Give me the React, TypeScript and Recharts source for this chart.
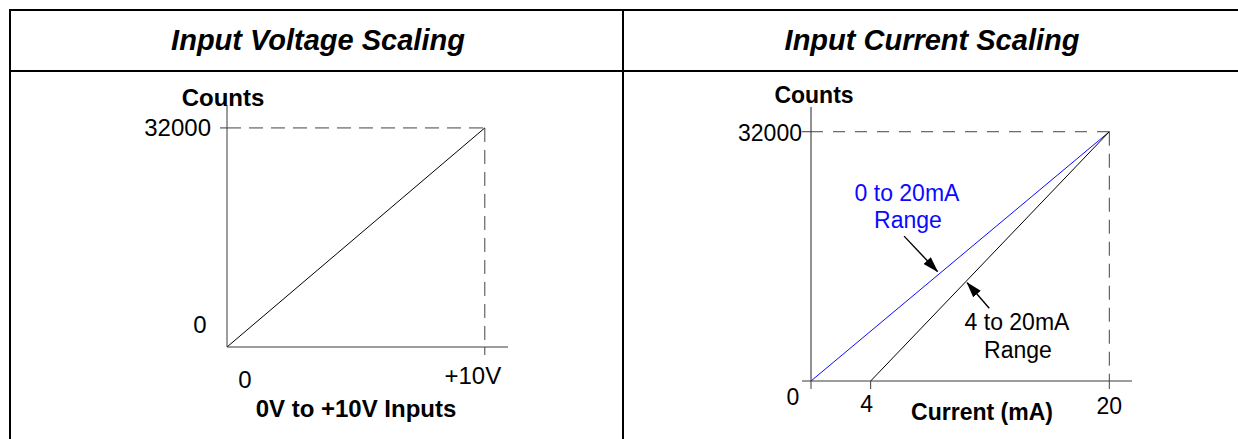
import React from 'react';
import { LineChart, Line, XAxis, YAxis, ReferenceLine } from 'recharts';

const FONT = '"Liberation Sans", Arial, Helvetica, sans-serif';

// ---- Panel titles ----
const panelTitles = ['Input Voltage Scaling', 'Input Current Scaling'];

// ---- Left panel: voltage scaling ----
const voltageInputs = [0, 10];
const voltageCounts = [0, 32000];
const voltageTicks = [0, 10];
const voltageTickLabels = ['0', '+10V'];
const leftCountTicks = [0, 32000];
const leftCountTickLabels = ['0', '32000'];

// ---- Right panel: current scaling ----
const range0to20Current = [0, 20];
const range0to20Counts = [0, 32000];
const range4to20Current = [4, 20];
const range4to20Counts = [0, 32000];
const currentTicks = [0, 4, 20];
const currentTickLabels = ['0', '4', '20'];
const rightCountTicks = [0, 32000];
const rightCountTickLabels = ['', '32000'];

// annotation arrows (data coords: [start, tip])
const arrow0to20 = [{ x: 6.24, y: 18600 }, { x: 8.48, y: 14060 }];
const arrow4to20 = [{ x: 11.95, y: 9340 }, { x: 10.47, y: 12620 }];

const toPoints = (xs: number[], ys: number[]) => xs.map((x, i) => ({ x, y: ys[i] }));

const voltageData = toPoints(voltageInputs, voltageCounts);
const data0to20 = toPoints(range0to20Current, range0to20Counts);
const data4to20 = toPoints(range4to20Current, range4to20Counts);

const AXIS = '#3a3a3a';
const DASH = '#444';
const RFS = 23;

const LeftXTick = (p: any) => {
  const v = p.payload.value;
  const idx = voltageTicks.indexOf(v);
  if (idx === 0) {
    return (
      <text x={p.x + 18} y={p.y + 41} textAnchor="middle" fontFamily={FONT} fontSize={24} fill="#000">
        {voltageTickLabels[idx]}
      </text>
    );
  }
  return (
    <g>
      <line x1={p.x} y1={p.y} x2={p.x} y2={p.y + 11} stroke={DASH} strokeDasharray="8 4" />
      <text x={p.x - 12} y={p.y + 37} textAnchor="middle" fontFamily={FONT} fontSize={24} fill="#000">
        {voltageTickLabels[idx]}
      </text>
    </g>
  );
};

const LeftYTick = (p: any) => {
  const v = p.payload.value;
  const idx = leftCountTicks.indexOf(v);
  if (idx === 0) {
    return (
      <text x={p.x - 27} y={p.y - 14} textAnchor="middle" fontFamily={FONT} fontSize={24} fill="#000">
        {leftCountTickLabels[idx]}
      </text>
    );
  }
  return (
    <g>
      <line x1={p.x - 7} y1={p.y} x2={p.x} y2={p.y} stroke={AXIS} />
      <text x={p.x - 16} y={p.y + 8} textAnchor="end" fontFamily={FONT} fontSize={24} fill="#000">
        {leftCountTickLabels[idx]}
      </text>
    </g>
  );
};

const RightXTick = (p: any) => {
  const v = p.payload.value;
  const idx = currentTicks.indexOf(v);
  const label = currentTickLabels[idx];
  if (idx === 0) {
    return (
      <g>
        <line x1={p.x} y1={p.y} x2={p.x} y2={p.y + 8} stroke={AXIS} />
        <text x={p.x - 18} y={p.y + 24} textAnchor="middle" fontFamily={FONT} fontSize={RFS} fill="#000">
          {label}
        </text>
      </g>
    );
  }
  if (idx === 1) {
    return (
      <g>
        <line x1={p.x} y1={p.y} x2={p.x} y2={p.y + 8} stroke={AXIS} />
        <text x={p.x - 4} y={p.y + 31} textAnchor="middle" fontFamily={FONT} fontSize={RFS} fill="#000">
          {label}
        </text>
      </g>
    );
  }
  return (
    <g>
      <line x1={p.x} y1={p.y} x2={p.x} y2={p.y + 12} stroke={DASH} strokeDasharray="8 4" />
      <text x={p.x} y={p.y + 33} textAnchor="middle" fontFamily={FONT} fontSize={RFS} fill="#000">
        {label}
      </text>
    </g>
  );
};

const RightYTick = (p: any) => {
  const v = p.payload.value;
  const idx = rightCountTicks.indexOf(v);
  return (
    <g>
      <line x1={p.x - 9} y1={p.y} x2={p.x} y2={p.y} stroke={AXIS} />
      <text x={p.x - 9} y={p.y + 9} textAnchor="end" fontFamily={FONT} fontSize={RFS} fill="#000">
        {rightCountTickLabels[idx]}
      </text>
    </g>
  );
};

const arrowShape = (p: any) => (
  <line x1={p.x1} y1={p.y1} x2={p.x2} y2={p.y2} stroke="#000" strokeWidth={1.4} markerEnd="url(#arrowHead)" />
);

export default function App() {
  const fullCounts = voltageCounts[1];
  const fullVolts = voltageInputs[1];
  const fullCurrent = range0to20Current[1];
  return (
    <div style={{ position: 'absolute', left: 0, top: 0, width: 1238, height: 439, background: '#fff', overflow: 'hidden' }}>
      <div style={{ position: 'absolute', left: 0, top: 0 }}>
        <LineChart width={620} height={439} margin={{ top: 105, left: 226, right: 112, bottom: 91 }}>
          <XAxis
            type="number"
            dataKey="x"
            domain={[0, 10.9]}
            allowDataOverflow
            ticks={voltageTicks}
            interval={0}
            height={1}
            tickSize={0}
            tickMargin={0}
            tickLine={false}
            stroke={AXIS}
            tick={(p: any) => <LeftXTick {...p} />}
          />
          <YAxis
            type="number"
            dataKey="y"
            domain={[0, 35350]}
            allowDataOverflow
            ticks={leftCountTicks}
            interval={0}
            width={1}
            tickSize={0}
            tickMargin={0}
            tickLine={false}
            stroke={AXIS}
            tick={(p: any) => <LeftYTick {...p} />}
          />
          <ReferenceLine
            segment={[{ x: 0, y: fullCounts }, { x: fullVolts, y: fullCounts }]}
            stroke={DASH}
            strokeDasharray="14 8"
          />
          <ReferenceLine
            segment={[{ x: fullVolts, y: fullCounts }, { x: fullVolts, y: 0 }]}
            stroke={DASH}
            strokeDasharray="14 8"
          />
          <Line
            data={voltageData}
            dataKey="y"
            type="linear"
            stroke="#000"
            strokeWidth={1}
            dot={false}
            isAnimationActive={false}
          />
        </LineChart>
      </div>

      <div style={{ position: 'absolute', left: 620, top: 0 }}>
        <LineChart width={618} height={439} margin={{ top: 107, left: 190, right: 106, bottom: 57 }}>
          <XAxis
            type="number"
            dataKey="x"
            domain={[0, 21.52]}
            allowDataOverflow
            ticks={currentTicks}
            interval={0}
            height={1}
            tickSize={0}
            tickMargin={0}
            tickLine={false}
            stroke={AXIS}
            tick={(p: any) => <RightXTick {...p} />}
          />
          <YAxis
            type="number"
            dataKey="y"
            domain={[0, 35175]}
            allowDataOverflow
            ticks={rightCountTicks}
            interval={0}
            width={1}
            tickSize={0}
            tickMargin={0}
            tickLine={false}
            stroke="#222"
            tick={(p: any) => <RightYTick {...p} />}
          />
          <ReferenceLine
            segment={[{ x: 0, y: fullCounts }, { x: fullCurrent, y: fullCounts }]}
            stroke={DASH}
            strokeDasharray="12 10"
          />
          <ReferenceLine
            segment={[{ x: fullCurrent, y: fullCounts }, { x: fullCurrent, y: 0 }]}
            stroke={DASH}
            strokeDasharray="14 8"
          />
          <Line
            data={data0to20}
            dataKey="y"
            type="linear"
            stroke="#0a0aff"
            strokeWidth={1}
            dot={false}
            isAnimationActive={false}
          />
          <Line
            data={data4to20}
            dataKey="y"
            type="linear"
            stroke="#000"
            strokeWidth={1}
            dot={false}
            isAnimationActive={false}
          />
          <ReferenceLine segment={arrow0to20} shape={arrowShape} />
          <ReferenceLine segment={arrow4to20} shape={arrowShape} />
        </LineChart>
      </div>

      <svg width={1238} height={439} style={{ position: 'absolute', left: 0, top: 0, pointerEvents: 'none' }}>
        <defs>
          <marker id="arrowHead" markerUnits="userSpaceOnUse" markerWidth={16} markerHeight={10} refX={15} refY={5} orient="auto">
            <path d="M0,0 L16,5 L0,10 z" fill="#000" />
          </marker>
        </defs>
        {/* table borders */}
        <rect x={9} y={9} width={1229} height={2} fill="#000" />
        <rect x={9} y={70} width={1229} height={2} fill="#000" />
        <rect x={9} y={9} width={2} height={430} fill="#000" />
        <rect x={622} y={9} width={2} height={430} fill="#000" />
        {/* titles */}
        <text x={318} y={50} textAnchor="middle" fontFamily={FONT} fontSize={29} fontWeight="bold" fontStyle="italic" fill="#000">
          {panelTitles[0]}
        </text>
        <text x={932} y={50} textAnchor="middle" fontFamily={FONT} fontSize={29} fontWeight="bold" fontStyle="italic" fill="#000">
          {panelTitles[1]}
        </text>
        {/* axis titles */}
        <text x={223} y={106} textAnchor="middle" fontFamily={FONT} fontSize={24} fontWeight="bold" fill="#000">Counts</text>
        <text x={356} y={417} textAnchor="middle" fontFamily={FONT} fontSize={24} fontWeight="bold" fill="#000">0V to +10V Inputs</text>
        <text x={814} y={103} textAnchor="middle" fontFamily={FONT} fontSize={RFS} fontWeight="bold" fill="#000">Counts</text>
        <text x={982} y={420} textAnchor="middle" fontFamily={FONT} fontSize={RFS} fontWeight="bold" fill="#000">Current (mA)</text>
        {/* annotations */}
        <text x={907} y={201} textAnchor="middle" fontFamily={FONT} fontSize={RFS} fill="#0a0aff">0 to 20mA</text>
        <text x={908} y={228} textAnchor="middle" fontFamily={FONT} fontSize={RFS} fill="#0a0aff">Range</text>
        <text x={1017} y={330} textAnchor="middle" fontFamily={FONT} fontSize={RFS} fill="#000">4 to 20mA</text>
        <text x={1018} y={358} textAnchor="middle" fontFamily={FONT} fontSize={RFS} fill="#000">Range</text>
      </svg>
    </div>
  );
}
